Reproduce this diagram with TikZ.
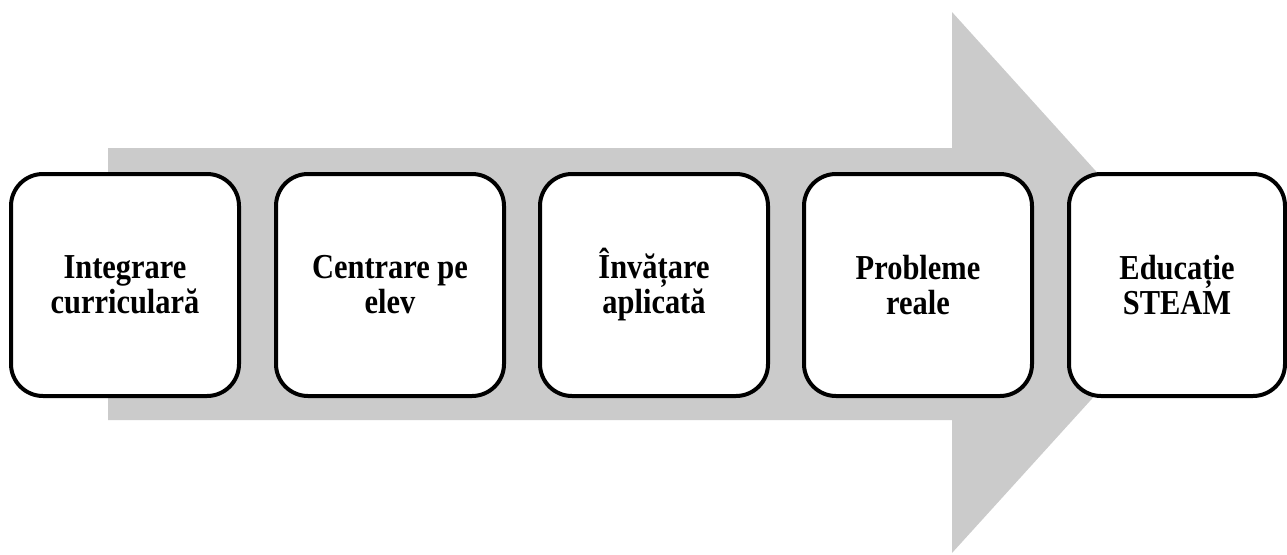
\documentclass[tikz,border=0pt]{standalone}
\usepackage{fontspec}
\setmainfont{Liberation Serif}
\newfontfamily\stagefont[FakeStretch=0.87]{Liberation Serif}
\definecolor{arrowgray}{RGB}{203,203,203}
\begin{document}
\begin{tikzpicture}[x=1pt,y=-1pt,
  stage/.style={draw=black, line width=4pt, fill=white, rounded corners=32pt,
    minimum width=228pt, minimum height=222pt, inner sep=0pt, align=center,
    font=\stagefont\fontsize{35pt}{35pt}\selectfont\bfseries}]
\useasboundingbox (0,0) rectangle (1287,554);
% broad grey arrow behind the stages
\fill[arrowgray] (108,148) -- (952,148) -- (952,12) -- (1197,283)
  -- (952,553) -- (952,420) -- (108,420) -- cycle;
% stages
\node[stage] (s1) at (125,285) {Integrare\\curriculară};
\node[stage] (s2) at (390,285) {Centrare pe\\elev};
\node[stage] (s3) at (654,285) {Învățare\\aplicată};
\node[stage] (s4) at (918,285) {Probleme\\reale};
\node[stage, minimum width=216pt] (s5) at (1177,285) {Educație\\STEAM};
\end{tikzpicture}
\end{document}
